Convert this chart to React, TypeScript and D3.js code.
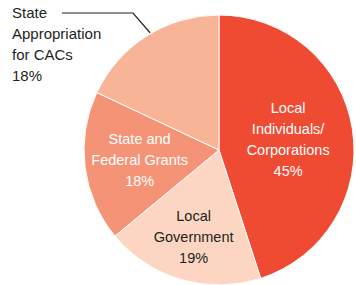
import { useMemo } from 'react';
import * as d3 from 'd3';

const sources = ['Local Individuals/ Corporations', 'Local Government', 'State and Federal Grants', 'State Appropriation for CACs'];
const shares = [45, 19, 18, 18];
const labelLines = [
  ['Local', 'Individuals/', 'Corporations', '45%'],
  ['Local', 'Government', '19%'],
  ['State and', 'Federal Grants', '18%'],
  ['State', 'Appropriation', 'for CACs', '18%'],
];
const colors = ['#EF4A32', '#FCD6C3', '#F59377', '#F8B497'];
const textColors = ['#ffffff', '#231F20', '#ffffff', '#231F20'];

const W = 356;
const H = 285;
const cx = 219;
const cy = 150;
const R = 135;
// distance of inner label blocks from centre, null = placed outside
const labelR = [70, 91, 80, null];
const lineH = 21;

export default function App(): React.ReactNode {
  const arcs = useMemo(() => {
    const pie = d3.pie<number>().sort(null).value((d) => d);
    return pie(shares);
  }, []);
  const arc = d3.arc<d3.PieArcDatum<number>>().innerRadius(0).outerRadius(R);

  // leader line for the outside label
  const out = arcs[3];
  const edgeAng = out.startAngle + (out.endAngle - out.startAngle) * 0.53;
  const ex = cx + Math.sin(edgeAng) * (R + 1);
  const ey = cy - Math.cos(edgeAng) * (R + 1);

  return (
    <svg
      width={W}
      height={H}
      viewBox={`0 0 ${W} ${H}`}
      style={{ position: 'absolute', left: 0, top: 0, background: '#fff' }}
      fontFamily="'Liberation Sans', Arial, Helvetica, sans-serif"
    >
      <g transform={`translate(${cx},${cy})`}>
        {arcs.map((a, i) => (
          <path key={sources[i]} d={arc(a) ?? ''} fill={colors[i]} stroke="#fff" strokeWidth={1} />
        ))}
        {arcs.map((a, i) => {
          const r = labelR[i];
          if (r === null) return null;
          const mid = (a.startAngle + a.endAngle) / 2;
          const x = Math.sin(mid) * r;
          const y = -Math.cos(mid) * r;
          const lines = labelLines[i];
          const top = y - ((lines.length - 1) * lineH) / 2;
          return (
            <text key={i} textAnchor="middle" fill={textColors[i]} fontSize={14.5}>
              {lines.map((t, j) => (
                <tspan key={j} x={x} y={top + j * lineH} dy="0.35em">
                  {t}
                </tspan>
              ))}
            </text>
          );
        })}
      </g>
      <polyline
        points={`62,13 133,13 ${ex},${ey}`}
        fill="none"
        stroke="#231F20"
        strokeWidth={1.2}
      />
      <text fill={textColors[3]} fontSize={15}>
        {labelLines[3].map((t, j) => (
          <tspan key={j} x={12} y={13 + j * lineH} dy="0.35em">
            {t}
          </tspan>
        ))}
      </text>
    </svg>
  );
}
